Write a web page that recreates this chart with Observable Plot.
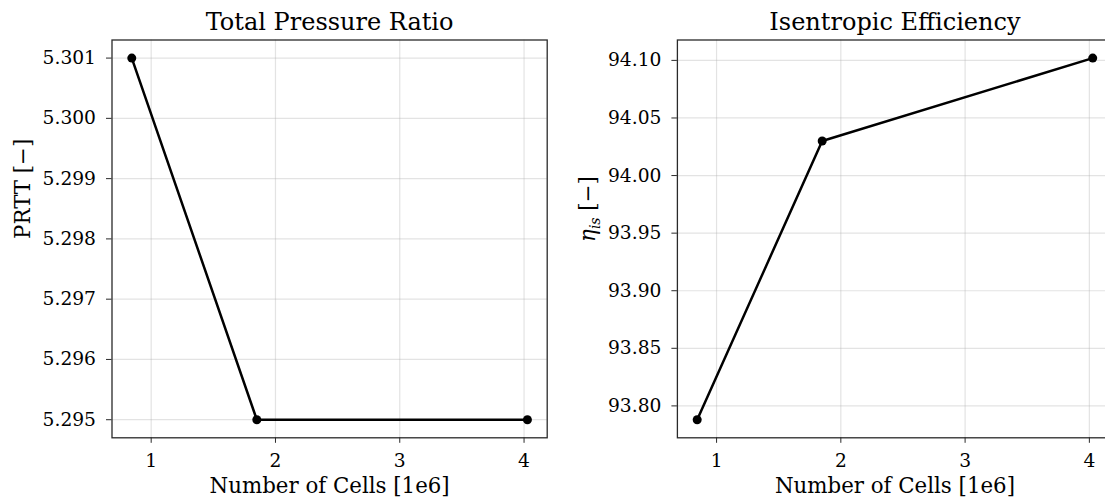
<!DOCTYPE html>
<html>
<head>
<meta charset="utf-8">
<script src="https://cdn.jsdelivr.net/npm/d3@7"></script>
<script src="https://cdn.jsdelivr.net/npm/@observablehq/plot@0.6"></script>
<style>
  html, body { margin: 0; padding: 0; background: #fff; overflow: hidden; }
  #wrap { position: relative; width: 1105px; height: 498px; overflow: hidden; }
  #wrap svg { position: absolute; top: 0; }
</style>
</head>
<body>
<div id="wrap"></div>
<script>
// ---- data ----
const cells = [0.844, 1.85, 4.027];            // Number of cells [1e6]
const prtt = [5.301, 5.295, 5.295];            // total pressure ratio
const eta = [93.788, 94.030, 94.102];          // isentropic efficiency
const xTicks = [1, 2, 3, 4];
const prttTicks = [5.295, 5.296, 5.297, 5.298, 5.299, 5.300, 5.301];
const etaTicks = [93.80, 93.85, 93.90, 93.95, 94.00, 94.05, 94.10];
const titles = ["Total Pressure Ratio", "Isentropic Efficiency"];
const yLabels = ["PRTT [−]", "ηis [−]"];
const xLabel = "Number of Cells [1e6]";

function padded(arr) {
  const [lo, hi] = d3.extent(arr);
  const p = (hi - lo) * 0.05;
  return [lo - p, hi + p];
}

function panel({ys, ticks, fmt, title, ylabel, left, marginLeft, marginRight, ylabelDy}) {
  const data = cells.map((c, i) => ({x: c, y: ys[i]}));
  const svg = Plot.plot({
    width: 560,
    height: 498,
    marginTop: 39.5,
    marginBottom: 60.7,
    marginLeft,
    marginRight,
    style: {fontFamily: "DejaVu Serif", fontSize: "18.67px", color: "#000", background: "transparent", overflow: "visible"},
    x: {domain: padded(cells)},
    y: {domain: padded(ys)},
    marks: [
      Plot.gridX(xTicks, {stroke: "#b0b0b0", strokeOpacity: 0.35, strokeWidth: 1.2}),
      Plot.gridY(ticks, {stroke: "#b0b0b0", strokeOpacity: 0.35, strokeWidth: 1.2}),
      Plot.frame({stroke: "#2a2a2a", strokeWidth: 1.3}),
      Plot.axisX(xTicks, {tickSize: 5.5, tickPadding: 10, fontSize: 18.67, label: null, stroke: "#2a2a2a", tickFormat: d3.format("d")}),
      Plot.axisY(ticks, {tickSize: 5.5, tickPadding: 10.5, fontSize: 18.67, label: null, stroke: "#2a2a2a", tickFormat: d3.format(fmt)}),
      Plot.line(data, {x: "x", y: "y", stroke: "#000", strokeWidth: 2.5}),
      Plot.dot(data, {x: "x", y: "y", r: 4.5, fill: "#000", stroke: null}),
      Plot.text([title], {text: d => d, frameAnchor: "top", lineAnchor: "middle", dy: -17.9, fontSize: 24, fill: "#000"}),
      Plot.text([xLabel], {text: d => d, frameAnchor: "bottom", lineAnchor: "middle", dy: 47.9, fontSize: 21.33, fill: "#000"}),
      Plot.text([ylabel], {text: d => d, frameAnchor: "left", lineAnchor: "middle", rotate: -90, dx: -89, dy: ylabelDy, fontSize: 21.33, fill: "#000"})
    ]
  });
  svg.style.left = left + "px";
  return svg;
}

const wrap = document.getElementById("wrap");
const s1 = panel({ys: prtt, ticks: prttTicks, fmt: ".3f", title: titles[0], ylabel: yLabels[0], left: 0, marginLeft: 111.5, marginRight: 13.3, ylabelDy: 0});
const s2 = panel({ys: eta, ticks: etaTicks, fmt: ".2f", title: titles[1], ylabel: yLabels[1], left: 560, marginLeft: 116.9, marginRight: 8, ylabelDy: 3});
wrap.appendChild(s1);
wrap.appendChild(s2);

// subscript for eta label
d3.select(s2).selectAll("text").filter(function() { return this.textContent === yLabels[1]; })
  .each(function() {
    const t = d3.select(this);
    t.text(null);
    t.append("tspan").attr("font-style", "italic").text("η");
    t.append("tspan").attr("font-style", "italic").attr("font-size", "14px").attr("dy", 5).text("is");
    t.append("tspan").attr("dy", -5).text(" [−]");
  });
</script>
</body>
</html>
